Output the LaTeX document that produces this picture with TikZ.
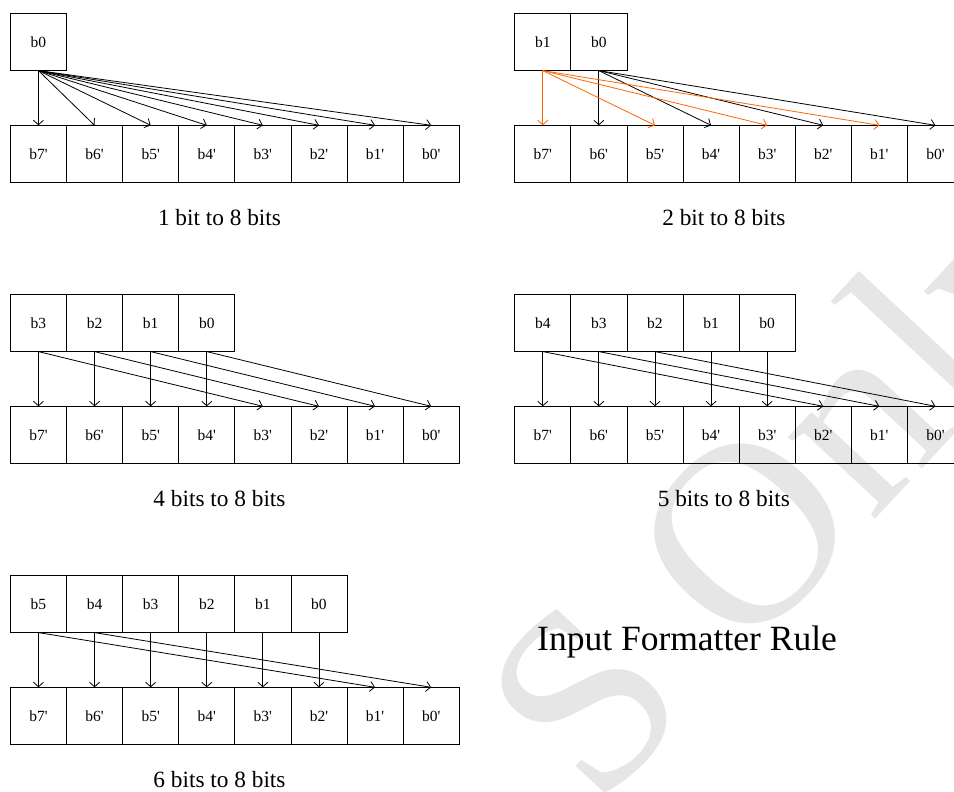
\documentclass[tikz,border=0pt]{standalone}
\usepackage{fontspec}
\setmainfont{Liberation Serif}
\newfontfamily\cellfont{Liberation Serif}
\usetikzlibrary{arrows.meta}
\definecolor{orng}{RGB}{255,102,0}
\definecolor{wm}{RGB}{230,230,230}
\tikzset{
  cell/.style={draw, line width=0.8pt, minimum width=56.1pt, minimum height=56.8pt,
    inner sep=0pt, anchor=north west, font=\cellfont\fontsize{15.5}{18}\selectfont},
  link/.style={-{Straight Barb[length=4.5pt,width=10pt]}, line width=0.8pt},
  caption/.style={anchor=base, inner sep=0pt, font=\fontsize{23.3}{28}\selectfont},
  wmark/.style={text=wm, inner sep=0pt, rotate=47, font=\fontsize{260}{280}\selectfont},
}
\newcommand{\bitpanel}[4]{%
  \foreach \k in {1,...,#4} {
    \pgfmathtruncatemacro\lbl{#4-\k}
    \node[cell] (#1t\k) at ({#2+(\k-1)*56.1}, #3) {b\lbl};
  }
  \foreach \k in {1,...,8} {
    \pgfmathtruncatemacro\lbl{8-\k}
    \node[cell] (#1b\k) at ({#2+(\k-1)*56.1}, #3+112.3) {b\lbl'};
  }
}
\begin{document}
\begin{tikzpicture}[x=1pt,y=-1pt]
\clip (0,0) rectangle (954,792);
\fill[white] (0,0) rectangle (954,792);
% watermark
\node[wmark] (wmS) at (585,700) {S};
\node[wmark] (wmOnly) at (875,428) {Only};

% panels
\bitpanel{A}{10}{13}{1}
\bitpanel{B}{514.3}{13}{2}
\bitpanel{C}{10}{294}{4}
\bitpanel{D}{514.3}{294}{5}
\bitpanel{E}{10}{575}{6}

% panel A: 1 bit
\foreach \j in {1,...,8} \draw[link] (At1.south) -- (Ab\j.north);
% panel B: 2 bits
\foreach \j in {2,4,6,8} \draw[link] (Bt2.south) -- (Bb\j.north);
\foreach \j in {1,3,5,7} \draw[link,orng] (Bt1.south) -- (Bb\j.north);
% panel C: 4 bits
\foreach \k in {1,...,4} {
  \pgfmathtruncatemacro\m{\k+4}
  \draw[link] (Ct\k.south) -- (Cb\k.north);
  \draw[link] (Ct\k.south) -- (Cb\m.north);
}
% panel D: 5 bits
\foreach \k in {1,...,5} \draw[link] (Dt\k.south) -- (Db\k.north);
\foreach \k in {1,2,3} {
  \pgfmathtruncatemacro\m{\k+5}
  \draw[link] (Dt\k.south) -- (Db\m.north);
}
% panel E: 6 bits
\foreach \k in {1,...,6} \draw[link] (Et\k.south) -- (Eb\k.north);
\foreach \k in {1,2} {
  \pgfmathtruncatemacro\m{\k+6}
  \draw[link] (Et\k.south) -- (Eb\m.north);
}

% captions
\node[caption] (capA) at (219.5,225) {1 bit to 8 bits};
\node[caption] (capB) at (723.8,225) {2 bit to 8 bits};
\node[caption] (capC) at (219.5,506.5) {4 bits to 8 bits};
\node[caption] (capD) at (723.8,506.5) {5 bits to 8 bits};
\node[caption] (capE) at (219.5,787.5) {6 bits to 8 bits};
\node[anchor=base west, inner sep=0pt, font=\fontsize{35.5}{42}\selectfont] (title) at (537,650.5) {Input Formatter Rule};
\end{tikzpicture}
\end{document}
